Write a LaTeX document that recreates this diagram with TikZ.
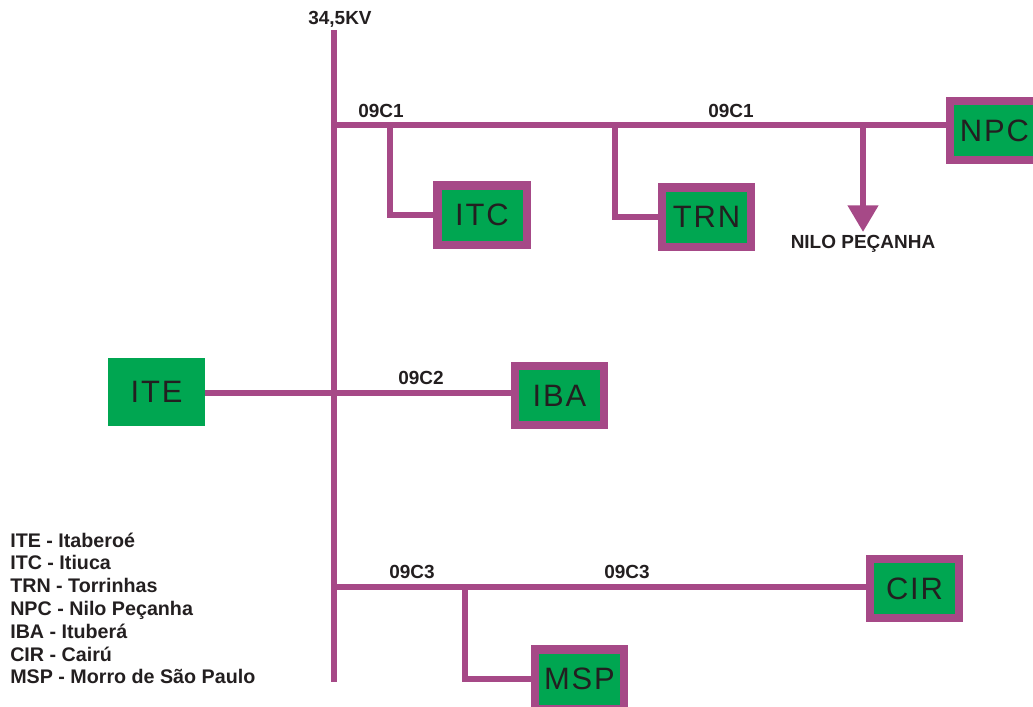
\documentclass[tikz,border=0pt]{standalone}
\usepackage{fontspec}
\setmainfont{Liberation Sans}
\usepackage{tikz}
\usetikzlibrary{arrows.meta, positioning, calc}
\usepackage{xcolor}
\definecolor{feeder}{RGB}{166,73,135}
\definecolor{subst}{RGB}{0,166,81}
\definecolor{ink}{RGB}{35,31,32}
\tikzset{
  bus/.style={draw=feeder, line width=4.3pt},
  station/.style={draw=feeder, line width=5.7pt, fill=subst, text=ink,
                  minimum width=2.225cm, minimum height=1.475cm, inner sep=0pt,
                  font=\fontsize{22}{24}\selectfont\addfontfeature{LetterSpace=6}},
  source/.style={fill=subst, text=ink, minimum width=2.425cm, minimum height=1.7cm,
                 inner sep=0pt, font=\fontsize{22}{24}\selectfont\addfontfeature{LetterSpace=6}},
  tag/.style={font=\fontsize{13.5}{15}\selectfont\bfseries, text=ink, inner sep=1pt},
  legend/.style={font=\fontsize{14}{16}\selectfont\bfseries, text=ink, inner sep=0pt}
}
\begin{document}
\begin{tikzpicture}[x=0.025cm, y=-0.025cm]
        \clip (0,0) rectangle (1033,706);
        \coordinate (bustop) at (334,30);
        \coordinate (busbot) at (334,682);
        \coordinate (j1) at (334,125);
        \coordinate (j2) at (334,393);
        \coordinate (j3) at (334,587);
        \coordinate (t1) at (390,125);
        \coordinate (t2) at (615,125);
        \coordinate (t3) at (863,125);
        \coordinate (t4) at (465,587);
        \coordinate (npe) at (863,232);

        \node[station] (ITC) at (482,215) {ITC};
        \node[station] (TRN) at (706.5,217) {TRN};
        \node[station] (NPC) at (994.5,130.5) {NPC};
        \node[source]  (ITE) at (156.5,392) {ITE};
        \node[station] (IBA) at (559.5,395.5) {IBA};
        \node[station] (CIR) at (914.5,588.5) {CIR};
        \node[station] (MSP) at (579.5,679) {MSP};

        \draw[bus] (bustop) -- (busbot);
        \draw[bus] (j1) -- (NPC.west |- j1);
        \draw[bus] (t1) |- (ITC.west);
        \draw[bus] (t2) |- (TRN.west);
        \draw[bus, -{Triangle[length=19pt, width=21pt]}] (t3) -- (npe);
        \draw[bus] (ITE.east |- j2) -- (IBA.west |- j2);
        \draw[bus] (j3) -- (CIR.west |- j3);
        \draw[bus] (t4) |- (MSP.west);

        \node[tag] (kv) at (340,19) {34,5KV};
        \node[tag] (c1a) at (381,111) {09C1};
        \node[tag] (c1b) at (731,111) {09C1};
        \node[tag] (c2) at (421,378) {09C2};
        \node[tag] (c3a) at (412,572) {09C3};
        \node[tag] (c3b) at (627,572) {09C3};
        \node[tag, below=1pt of npe] (nilo) {NILO PEÇANHA};

        \foreach \i/\code/\name in {
            0/ITE/Itaberoé,
            1/ITC/Itiuca,
            2/TRN/Torrinhas,
            3/NPC/Nilo Peçanha,
            4/IBA/Ituberá,
            5/CIR/Cairú,
            6/MSP/Morro de São Paulo}{
          \node[legend, anchor=base west] (leg\i) at (10,{547+\i*22.8}) {\code\ - \name};
        }
      \end{tikzpicture}
\end{document}
